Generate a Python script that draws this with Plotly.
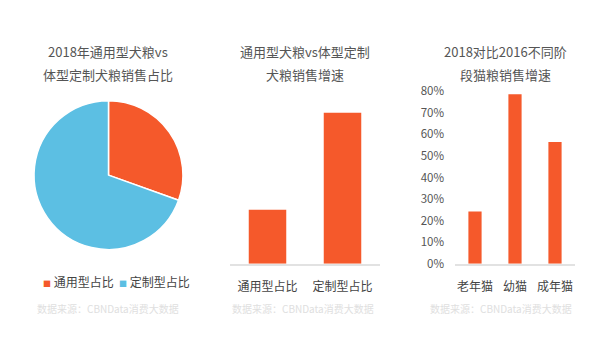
import plotly.graph_objects as go

W, H = 614, 352
ORANGE = "#F5592B"
BLUE = "#5CBFE3"
FONT = "Noto Sans CJK SC"

pie_labels = ["通用型占比", "定制型占比"]
pie_values = [30.5, 69.5]

dog_cats = ["通用型占比", "定制型占比"]
dog_growth = [25, 70]

cat_cats = ["老年猫", "幼猫", "成年猫"]
cat_growth = [24.3, 78.5, 56.4]
y_ticks = [0, 10, 20, 30, 40, 50, 60, 70, 80]
y_ticklabels = [f"{v}%" for v in y_ticks]

titles = [
    (108, ["2018年通用型犬粮vs", "体型定制犬粮销售占比"]),
    (305, ["通用型犬粮vs体型定制", "犬粮销售增速"]),
    (505, ["2018对比2016不同阶", "段猫粮销售增速"]),
]
source_text = "数据来源：CBNData消费大数据"

def px(x):
    return x / W

def py(y):
    return 1 - y / H

fig = go.Figure()

fig.add_trace(go.Pie(
    labels=pie_labels, values=pie_values,
    marker=dict(colors=[ORANGE, BLUE], line=dict(color="white", width=1.5)),
    sort=False, direction="clockwise", rotation=0,
    textinfo="none", hoverinfo="label+percent",
    domain=dict(x=[px(30), px(187)], y=[py(252), py(96)]),
    showlegend=False,
))

fig.add_trace(go.Bar(
    x=dog_cats, y=dog_growth, marker=dict(color=ORANGE, line=dict(width=0)),
    xaxis="x2", yaxis="y2", showlegend=False, width=0.5,
))

fig.add_trace(go.Bar(
    x=cat_cats, y=cat_growth, marker=dict(color=ORANGE, line=dict(width=0)),
    xaxis="x3", yaxis="y3", showlegend=False, width=0.33,
))

ydom = [py(267), py(86)]

fig.update_layout(
    width=W, height=H,
    margin=dict(l=0, r=0, t=0, b=0),
    paper_bgcolor="white", plot_bgcolor="white",
    font=dict(family=FONT, color="#444"),
    xaxis2=dict(domain=[px(230), px(380)], anchor="y2", showgrid=False,
                showline=True, linecolor="#e2e2e2", linewidth=1.5,
                ticks="", tickfont=dict(size=12, color="#444"),
                ticklabelstandoff=11, fixedrange=True),
    yaxis2=dict(domain=ydom, anchor="x2", range=[0, 80], visible=False,
                showgrid=False, zeroline=False),
    xaxis3=dict(domain=[px(455), px(575)], anchor="y3", showgrid=False,
                showline=True, linecolor="#e2e2e2", linewidth=1.5,
                ticks="", tickfont=dict(size=12, color="#444"),
                ticklabelstandoff=11),
    yaxis3=dict(domain=ydom, anchor="x3", range=[0, 80], showgrid=False,
                zeroline=False, showline=False, tickmode="array",
                tickvals=y_ticks, ticktext=y_ticklabels,
                tickfont=dict(size=11.5, color="#555"), ticklabelstandoff=10),
)

annotations = []
for cx, lines in titles:
    for i, line in enumerate(lines):
        annotations.append(dict(
            x=px(cx), y=py(44 + 25 * i), xref="paper", yref="paper",
            text=line, showarrow=False, xanchor="center", yanchor="middle",
            font=dict(size=13, color="#555", family=FONT)))

# legend for pie
legend_items = [(41, ORANGE, pie_labels[0]), (117, BLUE, pie_labels[1])]
for lx, col, lab in legend_items:
    annotations.append(dict(
        x=px(lx), y=py(285), xref="paper", yref="paper",
        text=f"<span style='color:{col};font-size:8px'>■</span> {lab}",
        showarrow=False, xanchor="left", yanchor="middle",
        font=dict(size=12, color="#444", family=FONT)))

for cx in [108, 303, 501]:
    annotations.append(dict(
        x=px(cx), y=py(314), xref="paper", yref="paper",
        text=source_text, showarrow=False, xanchor="center", yanchor="middle",
        font=dict(size=10, color="#e0e0e0", family=FONT)))

fig.update_layout(annotations=annotations)

fig.write_html("out.html")
